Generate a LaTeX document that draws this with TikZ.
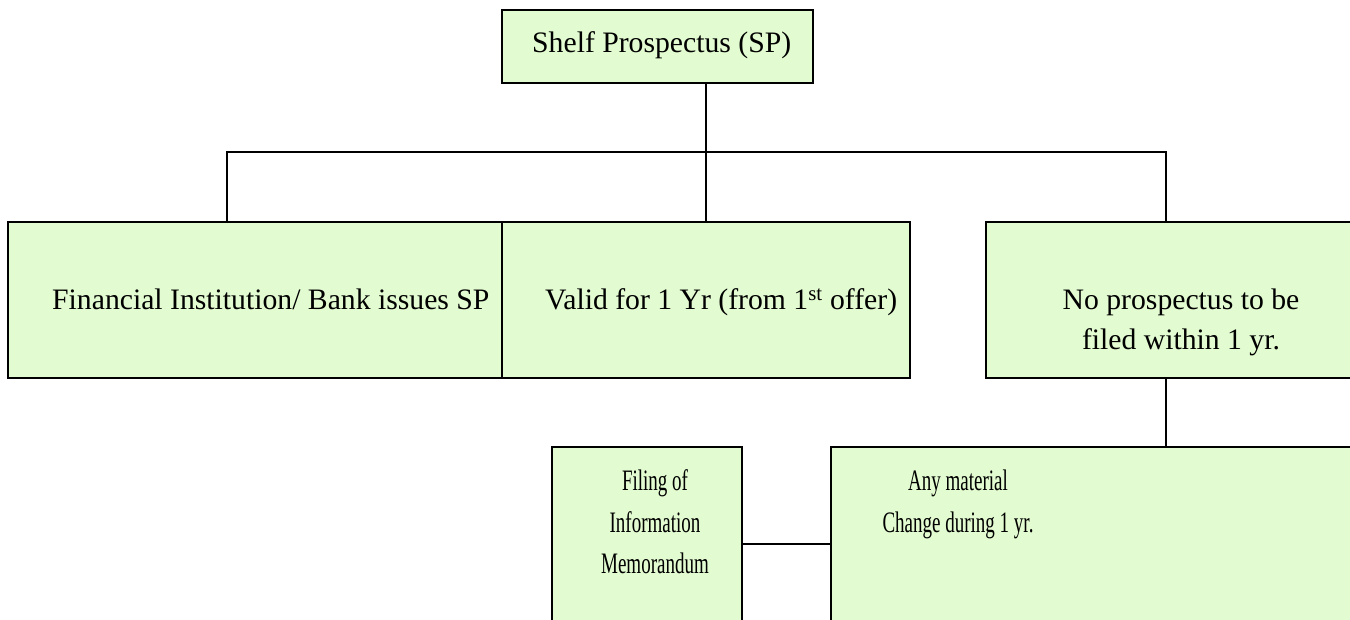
\documentclass[tikz,border=0pt]{standalone}
\usepackage{fontspec}
\setmainfont{Liberation Serif}
\definecolor{boxfill}{RGB}{226,251,208}
\begin{document}
\begin{tikzpicture}[x=1pt,y=-1pt,
  box/.style={draw=black,fill=boxfill,line width=2pt,rectangle,inner sep=0pt,outer sep=0pt},
  link/.style={draw=black,line width=1.6pt},
  txt/.style={inner sep=0pt,font=\fontsize{29.7}{36}\selectfont},
  narrow/.style={txt}]
\useasboundingbox (0,0) rectangle (1350,620);
\clip (0,0) rectangle (1350,620);

% boxes
\node[box,line width=1.6pt,minimum width=311pt,minimum height=73pt] (top) at (657.5,46.5) {};
\node[box,minimum width=494pt,minimum height=156pt] (fi) at (255,300) {};
\node[box,minimum width=408pt,minimum height=156pt] (valid) at (706,300) {};
\node[box,minimum width=390pt,minimum height=156pt] (nopros) at (1181,300) {};
\node[box,minimum width=190pt,minimum height=230pt] (filing) at (647,562) {};
\node[box,minimum width=570pt,minimum height=230pt] (anymat) at (1116,562) {};

% texts
\node[txt,anchor=base west] (ttop) at (532,53) {Shelf Prospectus (SP)};
\node[txt,anchor=base west] (tfi) at (52,310) {Financial Institution/ Bank issues SP};
\node[txt,anchor=base west] (tvalid) at (545,310) {Valid for 1 Yr (from 1\textsuperscript{st} offer)};
\node[txt,anchor=base] (tnp1) at (1181,310) {No prospectus to be};
\node[txt,anchor=base] (tnp2) at (1181,350) {filed within 1 yr.};
\node[narrow,anchor=base] (tf1) at (655,490) {\scalebox{0.64}[1]{Filing of}};
\node[narrow,anchor=base] (tf2) at (655,532) {\scalebox{0.64}[1]{Information}};
\node[narrow,anchor=base] (tf3) at (655,573) {\scalebox{0.64}[1]{Memorandum}};
\node[narrow,anchor=base] (ta1) at (958,490) {\scalebox{0.64}[1]{Any material}};
\node[narrow,anchor=base] (ta2) at (958,532) {\scalebox{0.64}[1]{Change during 1 yr.}};

% connectors
\coordinate (busL) at (227,152);
\coordinate (busR) at (1166,152);
\coordinate (side) at (742,544);
\draw[link] (top.south -| valid.north) -- (valid.north);
\draw[link] (busL |- fi.north) -- (busL) -- (busR) -- (busR |- nopros.north);
\draw[link] (busR |- nopros.south) -- (busR |- anymat.north);
\draw[link] (filing.east |- side) -- (anymat.west |- side);
\end{tikzpicture}
\end{document}
